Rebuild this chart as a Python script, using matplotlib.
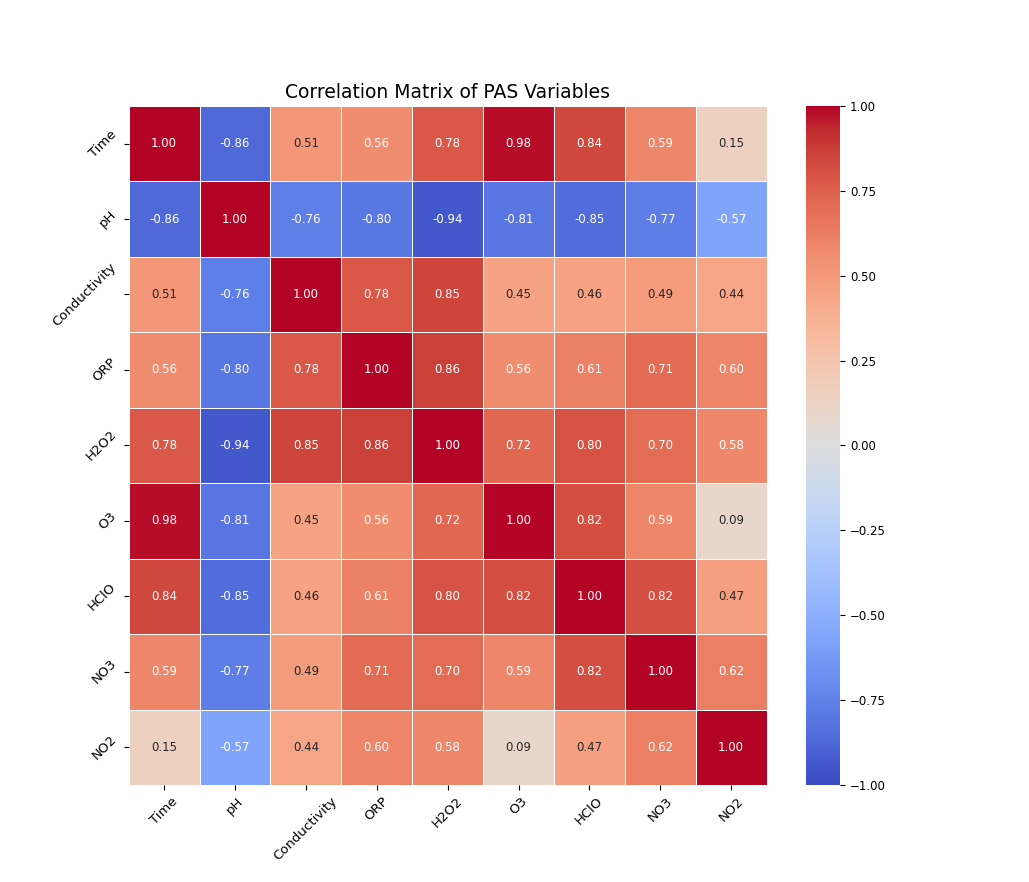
import numpy as np
import pandas as pd
import seaborn as sns
import matplotlib.pyplot as plt

# variable names
labels = ['Time', 'pH', 'Conductivity', 'ORP', 'H2O2', 'O3', 'HClO', 'NO3', 'NO2']

# correlation rows
r_time = [1.00, -0.86, 0.51, 0.56, 0.78, 0.98, 0.84, 0.59, 0.15]
r_ph = [-0.86, 1.00, -0.76, -0.80, -0.94, -0.81, -0.85, -0.77, -0.57]
r_cond = [0.51, -0.76, 1.00, 0.78, 0.85, 0.45, 0.46, 0.49, 0.44]
r_orp = [0.56, -0.80, 0.78, 1.00, 0.86, 0.56, 0.61, 0.71, 0.60]
r_h2o2 = [0.78, -0.94, 0.85, 0.86, 1.00, 0.72, 0.80, 0.70, 0.58]
r_o3 = [0.98, -0.81, 0.45, 0.56, 0.72, 1.00, 0.82, 0.59, 0.09]
r_hclo = [0.84, -0.85, 0.46, 0.61, 0.80, 0.82, 1.00, 0.82, 0.47]
r_no3 = [0.59, -0.77, 0.49, 0.71, 0.70, 0.59, 0.82, 1.00, 0.62]
r_no2 = [0.15, -0.57, 0.44, 0.60, 0.58, 0.09, 0.47, 0.62, 1.00]

corr = pd.DataFrame([r_time, r_ph, r_cond, r_orp, r_h2o2, r_o3, r_hclo, r_no3, r_no2],
                    index=labels, columns=labels)

fig = plt.figure(figsize=(10.29, 8.82), dpi=100)
ax = sns.heatmap(corr, annot=True, fmt='.2f', cmap='coolwarm', vmin=-1, vmax=1,
                 linewidths=0.5, linecolor='white', annot_kws={'size': 8.5})
ax.set_title('Correlation Matrix of PAS Variables', fontsize=13.5)
plt.xticks(rotation=45, fontsize=9.5)
plt.yticks(rotation=45, fontsize=9.5)
cbar = ax.collections[0].colorbar
cbar.ax.tick_params(labelsize=8.5)
plt.savefig('out.png', dpi=100)
